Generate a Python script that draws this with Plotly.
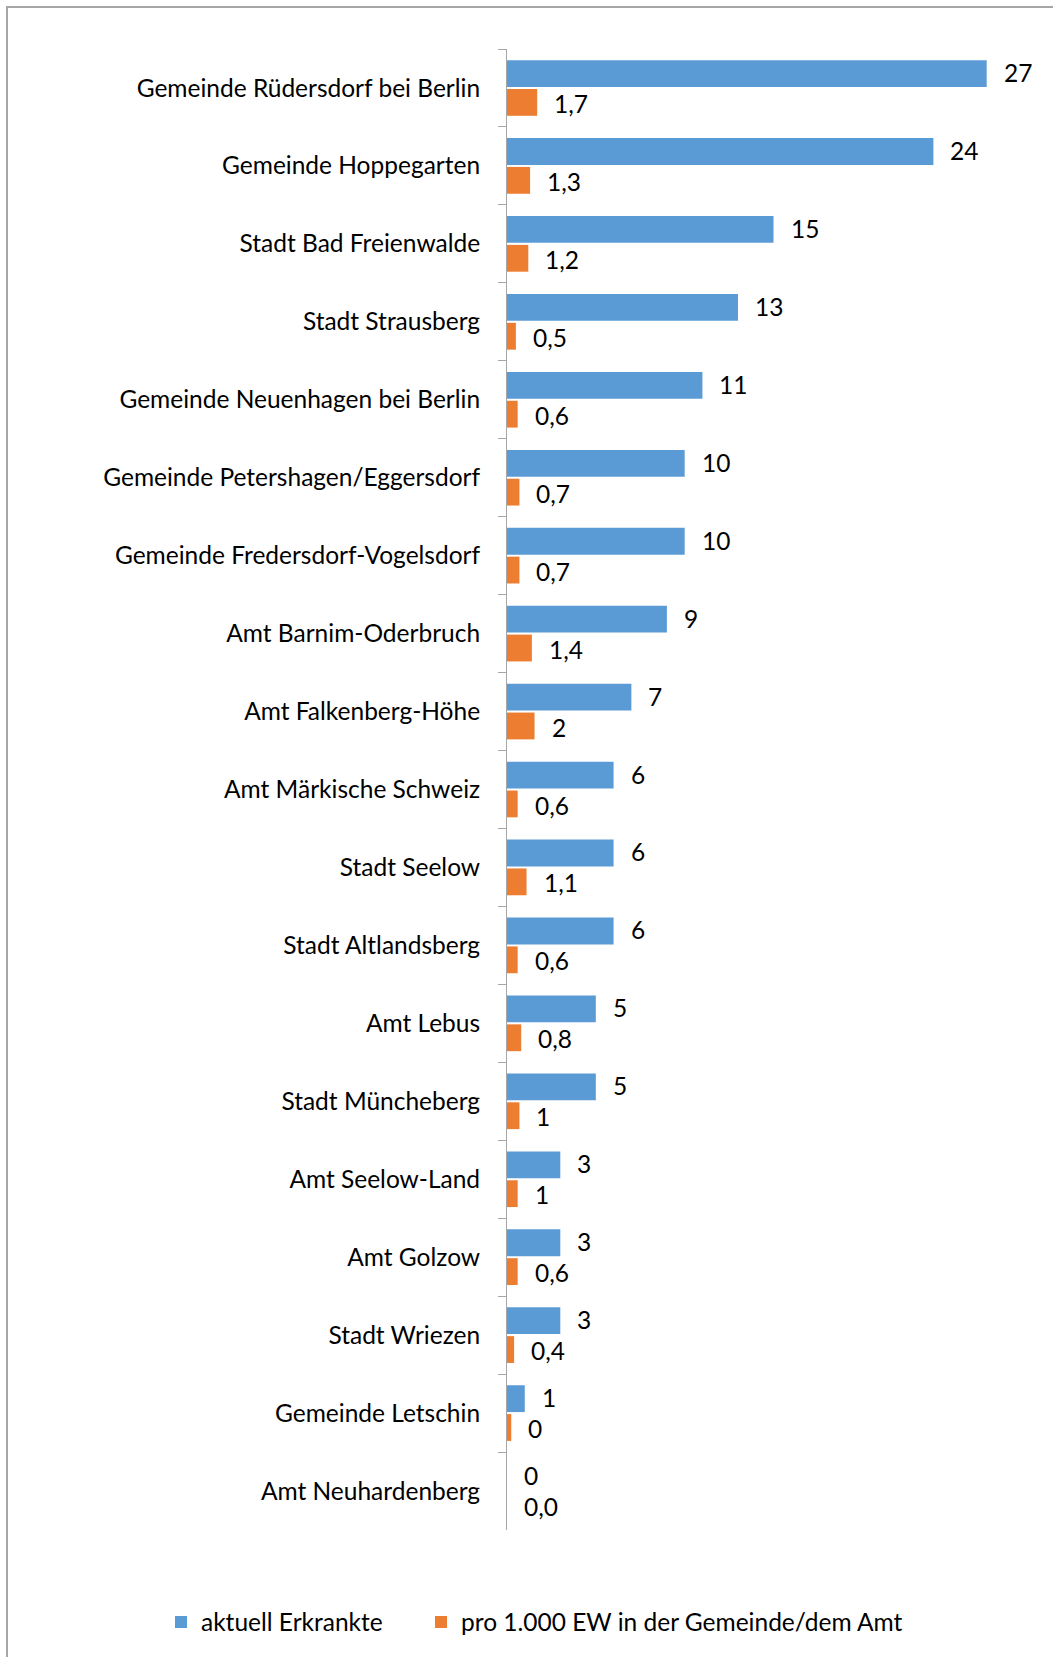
import plotly.graph_objects as go

categories = [
    "Gemeinde Rüdersdorf bei Berlin",
    "Gemeinde Hoppegarten",
    "Stadt Bad Freienwalde",
    "Stadt Strausberg",
    "Gemeinde Neuenhagen bei Berlin",
    "Gemeinde Petershagen/Eggersdorf",
    "Gemeinde Fredersdorf-Vogelsdorf",
    "Amt Barnim-Oderbruch",
    "Amt Falkenberg-Höhe",
    "Amt Märkische Schweiz",
    "Stadt Seelow",
    "Stadt Altlandsberg",
    "Amt Lebus",
    "Stadt Müncheberg",
    "Amt Seelow-Land",
    "Amt Golzow",
    "Stadt Wriezen",
    "Gemeinde Letschin",
    "Amt Neuhardenberg",
]
erkrankte = [27, 24, 15, 13, 11, 10, 10, 9, 7, 6, 6, 6, 5, 5, 3, 3, 3, 1, 0]
pro_1000 = [1.7, 1.3, 1.2, 0.5, 0.6, 0.7, 0.7, 1.4, 1.55, 0.6, 1.1, 0.6, 0.8, 0.7, 0.6, 0.6, 0.4, 0.24, 0.0]
erkrankte_labels = ["27", "24", "15", "13", "11", "10", "10", "9", "7", "6", "6", "6", "5", "5", "3", "3", "3", "1", "0"]
pro_1000_labels = ["1,7", "1,3", "1,2", "0,5", "0,6", "0,7", "0,7", "1,4", "2", "0,6", "1,1", "0,6", "0,8", "1", "1", "0,6", "0,4", "0", "0,0"]

FONT = "Lato"
FS = 24.5
BLUE = "#5B9BD5"
ORANGE = "#ED7D31"
W, H = 1053, 1657
L, R, T, B = 507, 13, 49, 127
pw, ph = W - L - R, H - T - B

fig = go.Figure()
fig.add_trace(go.Bar(
    y=categories, x=erkrankte, orientation="h", name="aktuell Erkrankte",
    marker=dict(color=BLUE, line=dict(width=0)), hoverinfo="x+y", legend="legend",
))
fig.add_trace(go.Bar(
    y=categories, x=pro_1000, orientation="h", name="pro 1.000 EW in der Gemeinde/dem Amt",
    marker=dict(color=ORANGE, line=dict(width=0)), hoverinfo="x+y", legend="legend2",
))

annotations = []
for c, v, t in zip(categories, erkrankte, erkrankte_labels):
    annotations.append(dict(x=v, y=c, xref="x", yref="y", text=t, showarrow=False,
                            xanchor="left", yanchor="middle", xshift=15, yshift=15.5,
                            font=dict(family=FONT, size=FS, color="#000000")))
for c, v, t in zip(categories, pro_1000, pro_1000_labels):
    annotations.append(dict(x=v, y=c, xref="x", yref="y", text=t, showarrow=False,
                            xanchor="left", yanchor="middle", xshift=15, yshift=-15.5,
                            font=dict(family=FONT, size=FS, color="#000000")))

# chart-area border (extends past the image at right and bottom)
bx0 = (7 - L) / pw
by1 = (H - B - 7) / ph
shapes = [dict(type="rect", xref="paper", yref="paper", x0=bx0, x1=1.2, y0=-0.3, y1=by1,
               line=dict(color="#a6a6a6", width=2), fillcolor="rgba(0,0,0,0)", layer="below")]

legend_common = dict(orientation="h", xanchor="left", yanchor="middle",
                     y=(H - B - 1622) / ph,
                     font=dict(family=FONT, size=FS, color="#000000"),
                     bgcolor="rgba(0,0,0,0)", borderwidth=0)

fig.update_layout(
    width=W, height=H,
    margin=dict(l=L, r=R, t=T, b=B, pad=0),
    paper_bgcolor="white", plot_bgcolor="white",
    barmode="group", bargap=0.26, bargroupgap=0.07,
    font=dict(family=FONT, size=FS, color="#000000"),
    xaxis=dict(range=[0, 30], showticklabels=False, showgrid=False, zeroline=False,
               showline=False, ticks=""),
    yaxis=dict(type="category", autorange="reversed", showgrid=False, zeroline=False,
               showline=True, linecolor="#a6a6a6", linewidth=1,
               ticks="outside", tickson="boundaries", ticklen=8, tickcolor="#a6a6a6",
               tickwidth=1, ticklabelstandoff=21,
               tickfont=dict(family=FONT, size=FS, color="#000000")),
    legend=dict(legend_common, x=(161 - L) / pw),
    legend2=dict(legend_common, x=(421 - L) / pw),
    annotations=annotations,
    shapes=shapes,
    showlegend=True,
)

fig.write_html("out.html", config={"displayModeBar": False},
               post_script="document.body.style.margin='0';document.body.style.overflow='hidden';")
